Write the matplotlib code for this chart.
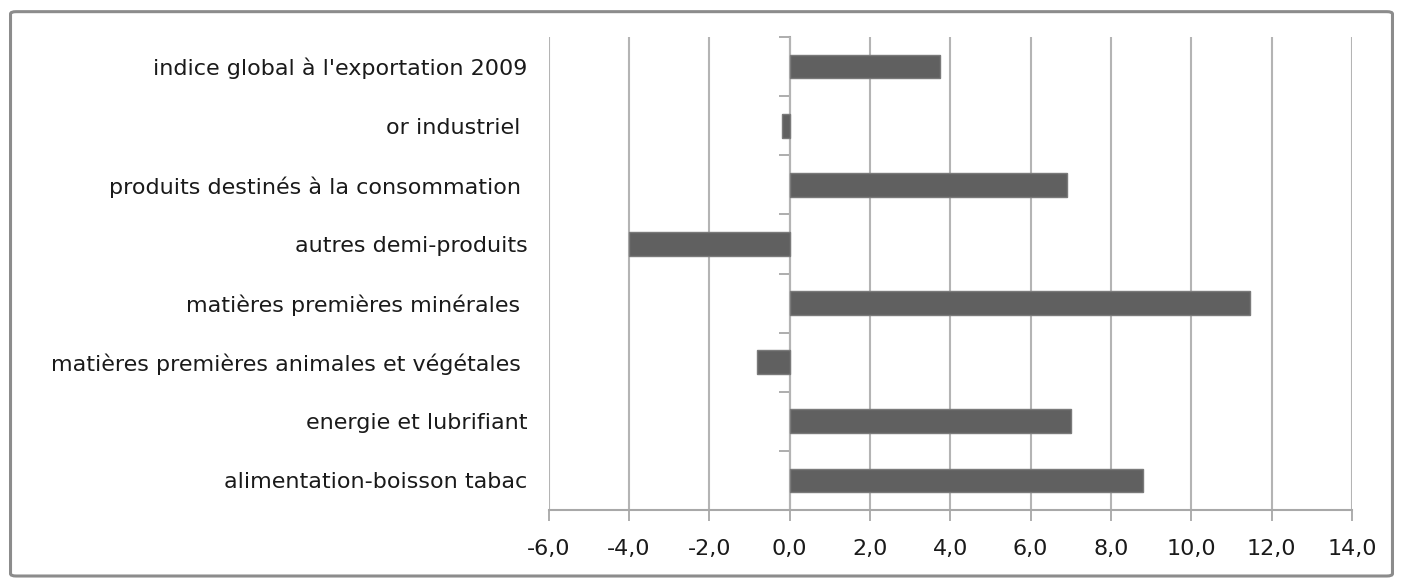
import matplotlib.pyplot as plt
import matplotlib.patches as mpatches
import numpy as np

# Données
categories = [
    "alimentation-boisson tabac",
    "energie et lubrifiant",
    "matières premières animales et végétales ",
    "matières premières minérales ",
    "autres demi-produits",
    "produits destinés à la consommation ",
    "or industriel ",
    "indice global à l'exportation 2009",
]
valeurs = [8.8, 7.0, -0.8, 11.45, -4.0, 6.9, -0.2, 3.75]
xticks = [-6, -4, -2, 0, 2, 4, 6, 8, 10, 12, 14]

plt.rcParams['font.family'] = ['DejaVu Sans']

fig = plt.figure(figsize=(14.03, 5.83), dpi=100)
ax = fig.add_axes([0.391, 0.1252, 0.5727, 0.8113])

y = np.arange(len(categories))
ax.barh(y, valeurs, height=0.4, color='#606060', edgecolor='#7a7a7a',
        linewidth=1, zorder=3)

ax.set_xlim(-6, 14)
ax.set_ylim(-0.5, len(categories) - 0.5)
ax.set_xticks(xticks)
ax.set_xticklabels([f"{v:.1f}".replace('.', ',') for v in xticks],
                   fontsize=16, color='#1a1a1a')
ax.set_yticks(y)
ax.set_yticklabels(categories, fontsize=16, color='#1a1a1a')
ax.tick_params(axis='y', length=0, pad=15)
ax.tick_params(axis='x', length=8, width=1.2, color='#a0a0a0', pad=13)

ax.grid(True, axis='x', color='#b4b4b4', linewidth=1.5, zorder=0)
for s in ['top', 'right', 'left']:
    ax.spines[s].set_visible(False)
ax.spines['bottom'].set_color('#a8a8a8')
ax.spines['bottom'].set_linewidth(1.5)

# axe vertical en zéro avec graduations entre catégories
sec = ax.secondary_yaxis(0.3)
sec.set_yticks(np.arange(len(categories) + 1) - 0.5)
sec.set_yticklabels([])
sec.tick_params(length=8, width=1.2, color='#a0a0a0')
sec.spines['left'].set_color('#a8a8a8')
sec.spines['left'].set_linewidth(1.5)

# cadre
fig.patches.append(mpatches.FancyBboxPatch(
    (0.0075, 0.012), 0.985, 0.968, boxstyle='round,pad=0,rounding_size=0.004',
    transform=fig.transFigure, fill=False, edgecolor='#8c8c8c', linewidth=2.2))

plt.savefig('out.png', dpi=100)
